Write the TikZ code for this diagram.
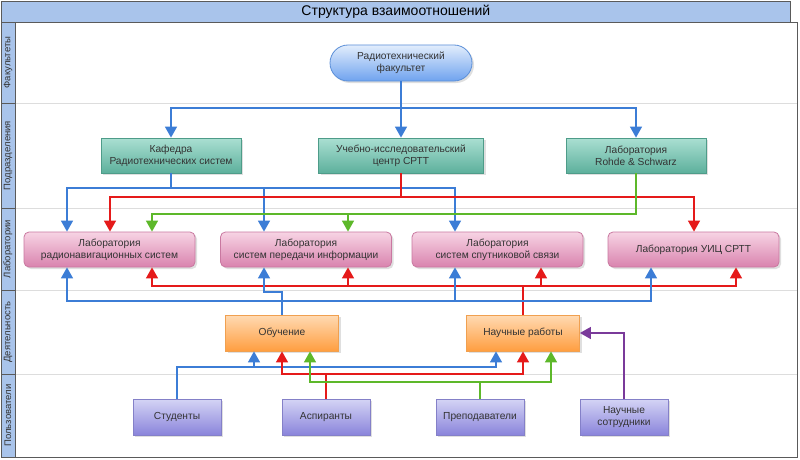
\documentclass[tikz,border=0pt]{standalone}
\usepackage{fontspec}
\setmainfont{Liberation Sans}
\usetikzlibrary{arrows.meta,shadows,calc}
\definecolor{titlefill}{HTML}{A9C4EB}
\definecolor{frame}{HTML}{5A5A5A}
\definecolor{txt}{HTML}{333333}
\definecolor{sepc}{HTML}{DDDDDD}
\definecolor{facT}{HTML}{E2EDFC}\definecolor{facB}{HTML}{6FA3EF}\definecolor{facD}{HTML}{5B8FD8}
\definecolor{tealT}{HTML}{AADFD2}\definecolor{tealB}{HTML}{5DB09C}\definecolor{tealD}{HTML}{4E9C89}
\definecolor{pinkT}{HTML}{F7D4E4}\definecolor{pinkB}{HTML}{D983AE}\definecolor{pinkD}{HTML}{C978A0}
\definecolor{orT}{HTML}{FFDAB3}\definecolor{orB}{HTML}{FF9E40}\definecolor{orD}{HTML}{F0A050}
\definecolor{puT}{HTML}{D4D4F5}\definecolor{puB}{HTML}{8A84DB}\definecolor{puD}{HTML}{8480C8}
\definecolor{lnB}{HTML}{3C7DD6}\definecolor{lnR}{HTML}{E51A1A}\definecolor{lnG}{HTML}{5DB82A}\definecolor{lnP}{HTML}{7A3A9A}
\tikzset{
  box/.style={draw, line width=0.8pt, text=txt, align=center, font=\fontsize{10.2}{12}\selectfont,
    drop shadow={shadow xshift=2pt, shadow yshift=-2pt, opacity=0.25}},
  facbox/.style={box, draw=facD, top color=facT, bottom color=facB, rounded corners=18pt,
    minimum width=142pt, minimum height=36pt},
  teal/.style={box, draw=tealD, top color=tealT, bottom color=tealB, minimum width=140pt, minimum height=35pt},
  pink/.style={box, draw=pinkD, top color=pinkT, bottom color=pinkB, rounded corners=5pt, minimum width=171pt, minimum height=35pt},
  orng/.style={box, draw=orD, top color=orT, bottom color=orB, minimum width=113pt, minimum height=36pt},
  purp/.style={box, draw=puD, top color=puT, bottom color=puB, minimum width=88pt, minimum height=36pt},
  lanelab/.style={draw=frame, fill=titlefill, rotate=90, minimum height=14pt, inner sep=0pt, text=txt,
    font=\fontsize{9.5}{10}\selectfont},
  sepline/.style={draw=sepc, line width=0.8pt},
  conn/.style={line width=1.4pt, -{Triangle[width=12pt,length=11pt]}},
  bl/.style={conn, draw=lnB},
  rd/.style={conn, draw=lnR},
  gr/.style={conn, draw=lnG},
  pu/.style={conn, draw=lnP},
}
\begin{document}
\begin{tikzpicture}[x=1pt,y=-1pt]
\useasboundingbox (0,0) rectangle (800,460);
\fill[white] (0,0) rectangle (800,460);
% pool
\draw[frame, line width=0.8pt] (1,22) rectangle (797,457);
% title
\node[draw=frame, fill=titlefill, line width=0.8pt, minimum width=789pt, minimum height=21pt, anchor=north west,
  inner sep=0pt, font=\fontsize{14}{16}\selectfont] (title) at (1,1) {Структура взаимоотношений};
% lanes
\foreach \ya in {103, 208, 290, 374}{ \draw[sepline] (15,\ya) -- (797,\ya); }
\node[lanelab, minimum width=81pt] (lane1) at (8,62.5) {Факультеты};
\node[lanelab, minimum width=105pt] (lane2) at (8,155.5) {Подразделения};
\node[lanelab, minimum width=82pt] (lane3) at (8,249) {Лаборатории};
\node[lanelab, minimum width=84pt] (lane4) at (8,332) {Деятельность};
\node[lanelab, minimum width=83pt] (lane5) at (8,415.5) {Пользователи};
% nodes
\node[facbox] (fac) at (401,63) {Радиотехнический\\факультет};
\node[teal] (kaf) at (171,155.5) {Кафедра\\Радиотехнических систем};
\node[teal, minimum width=165pt] (cen) at (401,155.5) {Учебно-исследовательский\\центр СРТТ};
\node[teal] (rs) at (636,155.5) {Лаборатория\\Rohde \& Schwarz};
\node[pink] (lab1) at (109.5,249.5) {Лаборатория\\радионавигационных систем};
\node[pink] (lab2) at (306,249.5) {Лаборатория\\систем передачи информации};
\node[pink] (lab3) at (497.5,249.5) {Лаборатория\\систем спутниковой связи};
\node[pink] (lab4) at (693.5,249.5) {Лаборатория УИЦ СРТТ};
\node[orng] (obu) at (282,333) {Обучение};
\node[orng] (nau) at (523,333) {Научные работы};
\node[purp] (stu) at (177,417) {Студенты};
\node[purp] (asp) at (326,417) {Аспиранты};
\node[purp] (pre) at (480,417) {Преподаватели};
\node[purp] (sot) at (624,417) {Научные\\сотрудники};
% faculty -> departments
\draw[bl] (fac.south) -- (fac.south |- 0,108) -| (kaf.north);
\draw[bl] (fac.south) -- (cen.north);
\draw[bl] (fac.south) -- (fac.south |- 0,108) -| (rs.north);
% kafedra -> labs
\draw[bl] (kaf.south) -- (kaf.south |- 0,188) -| (lab1.north -| 67,0);
\draw[bl] (kaf.south) -- (kaf.south |- 0,188) -| (lab2.north -| 264,0);
\draw[bl] (kaf.south) -- (kaf.south |- 0,188) -| (lab3.north -| 455,0);
% centre -> labs
\draw[rd] (cen.south) -- (cen.south |- 0,197) -| (lab1.north -| 110,0);
\draw[rd] (cen.south) -- (cen.south |- 0,197) -| (lab4.north -| 694,0);
% R&S -> labs
\draw[gr] (rs.south) -- (rs.south |- 0,214) -| (lab1.north -| 152,0);
\draw[gr] (rs.south) -- (rs.south |- 0,214) -| (lab2.north -| 348,0);
% science -> labs
\draw[rd] (nau.north) -- (nau.north |- 0,286) -| (lab1.south -| 152,0);
\draw[rd] (nau.north) -- (nau.north |- 0,286) -| (lab2.south -| 348,0);
\draw[rd] (nau.north) -- (nau.north |- 0,286) -| (lab3.south -| 541,0);
\draw[rd] (nau.north) -- (nau.north |- 0,286) -| (lab4.south -| 736,0);
% education -> labs
\draw[bl] (obu.north) -- (obu.north |- 0,292) -| (lab2.south -| 264,0);
\draw[bl] (obu.north) -- (obu.north |- 0,301) -| (lab1.south -| 67,0);
\draw[bl] (obu.north) -- (obu.north |- 0,301) -| (lab3.south -| 455,0);
\draw[bl] (obu.north) -- (obu.north |- 0,301) -| (lab4.south -| 651,0);
% users -> activities
\draw[bl] (stu.north) -- (stu.north |- 0,367) -| (obu.south -| 254,0);
\draw[bl] (stu.north) -- (stu.north |- 0,367) -| (nau.south -| 496,0);
\draw[rd] (asp.north) -- (asp.north |- 0,374) -| (obu.south);
\draw[rd] (asp.north) -- (asp.north |- 0,374) -| (nau.south);
\draw[gr] (pre.north) -- (pre.north |- 0,382) -| (obu.south -| 310,0);
\draw[gr] (pre.north) -- (pre.north |- 0,382) -| (nau.south -| 551,0);
\draw[pu] (sot.north) |- (nau.east);
\end{tikzpicture}
\end{document}
